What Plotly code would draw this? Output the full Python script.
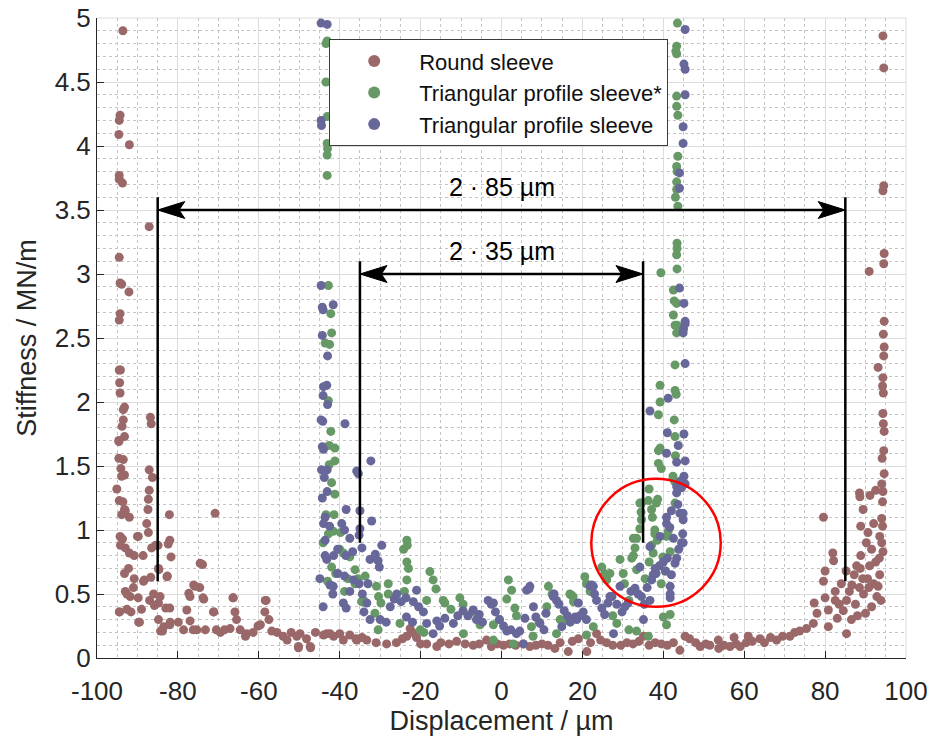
import plotly.graph_objects as go

# ---------------- data ----------------
round_sleeve = [
    (-93.6,4.90),(-94.3,4.24),(-94.5,4.20),(-94.6,4.09),(-92.0,4.01),(-94.5,3.77),(-94.5,3.74),(-93.7,3.71),
    (-87.1,3.37),(-94.5,3.13),(-94.3,2.93),(-93.9,2.92),(-92.1,2.86),(-94.3,2.69),(-94.5,2.64),
    (-94.5,2.25),(-94.2,2.25),(-94.4,2.15),(-94.3,2.07),(-93.5,1.94),(-93.2,1.96),(-93.5,1.86),(-93.8,1.81),
    (-93.2,1.73),(-94.6,1.70),(-94.6,1.69),(-94.6,1.56),(-93.5,1.55),(-94.1,1.48),(-93.2,1.43),(-93.9,1.42),
    (-95.1,1.32),(-94.5,1.23),(-93.6,1.22),(-93.2,1.16),(-93.0,1.15),(-92.0,1.10),(-93.9,1.12),
    (-86.8,1.88),(-86.6,1.83),(-87.1,1.47),(-86.3,1.41),(-87.1,1.31),(-87.3,1.24),(-87.4,1.16),(-82.1,1.12),
    (-70.8,1.13),(-87.7,1.05),(-87.3,0.98),(-90.0,0.95),
    (-94.3,0.95),(-93.7,0.93),(-89.8,0.95),(-82.0,0.92),(-82.4,0.89),(-81.7,0.79),(-94.2,0.88),(-93.0,0.86),
    (-92.0,0.82),(-90.8,0.80),(-88.6,0.80),(-86.5,0.86),(-85.5,0.88),(-84.9,0.88),(-92.2,0.70),(-93.2,0.66),
    (-90.8,0.62),(-88.5,0.60),(-88.3,0.61),(-86.7,0.63),(-84.8,0.70),(-84.7,0.69),(-82.7,0.635),(-82.6,0.64),
    (-93.0,0.52),(-92.6,0.50),(-91.8,0.48),(-91.0,0.55),(-89.8,0.47),(-87.0,0.45),(-86.0,0.50),(-84.8,0.43),
    (-84.4,0.48),(-94.4,0.36),(-94.5,0.36),(-92.6,0.38),(-91.6,0.36),(-89.0,0.38),(-85.8,0.41),(-83.0,0.39),
    (-82.0,0.39),(-89.7,0.28),(-89.5,0.28),(-84.8,0.30),(-83.5,0.245),(-84.3,0.21),(-83.8,0.21),(-81.9,0.28),
    (-82.0,0.26),(-79.9,0.28),(-78.6,0.22),(-77.0,0.29),(-76.2,0.22),(-75.3,0.22),(-77.8,0.375),(-77.3,0.505),
    (-77.0,0.48),(-76.1,0.57),(-75.8,0.56),(-74.6,0.55),(-74.5,0.74),(-73.9,0.73),(-73.8,0.47),(-73.6,0.46),
    (-73.2,0.22),(-71.2,0.36),(-70.5,0.22),(-71.1,0.36),(-69.5,0.20),(-68.5,0.22),(-66.4,0.47),(-66.3,0.47),
    (-65.9,0.36),(-65.5,0.30),(-67.1,0.23),(-64.6,0.22),(-63.3,0.17),(-63.0,0.19),(-61.4,0.20),(-60.2,0.25),
    (-59.6,0.26),(-58.4,0.45),(-58.2,0.45),(-58.5,0.36),(-57.5,0.30),(-56.8,0.21),(-55.5,0.20),(-54.0,0.17),
    (-53.0,0.14),(-52.0,0.20),(-50.6,0.17),(-50.2,0.08),(-50.2,0.09),(-47.2,0.08),(-48.2,0.15),
    (-49.8,0.19),(-47.3,0.09),(-46.0,0.20),(-44.0,0.18),(-43.2,0.19),(-42.4,0.19),(-41.5,0.17),(-40.0,0.19),
    (-39.1,0.14),(-37.5,0.18),(-36.0,0.15),(-35.8,0.14),(-34.5,0.16),(-33.3,0.14),(-31.0,0.12),(-28.4,0.11),
    (-26.0,0.12),(-24.5,0.15),(-23.4,0.17),(-22.6,0.23),(-22.0,0.20),(-21.0,0.16),(-20.0,0.11),(-18.5,0.11),
    (-16.0,0.09),(-15.0,0.12),(-13.0,0.11),(-11.1,0.13),(-9.0,0.11),(-7.0,0.10),(-5.5,0.11),(-3.7,0.14),
    (-2.5,0.09),(-1.0,0.11),(0.5,0.10),(2.0,0.11),(3.5,0.10),(5.4,0.11),(7.0,0.09),(8.5,0.10),(10.0,0.11),
    (11.5,0.10),(13.2,0.075),(14.5,0.12),(16.5,0.05),(17.5,0.13),(19.0,0.15),(21.1,0.05),(22.0,0.12),
    (23.5,0.19),(24.5,0.14),(26.0,0.12),(27.5,0.10),(29.5,0.10),(31.0,0.12),(32.5,0.11),(34.0,0.13),
    (35.1,0.17),(36.5,0.10),(38.0,0.12),(39.5,0.11),(41.0,0.10),(42.5,0.12),(44.1,0.06),(45.4,0.17),
    (46.5,0.15),(48.0,0.12),(49.1,0.09),(50.5,0.11),(51.5,0.10),(53.6,0.14),(53.7,0.075),(55.0,0.10),
    (56.5,0.09),(57.5,0.16),(58.0,0.11),(59.0,0.09),(60.5,0.12),(61.0,0.17),(62.0,0.13),(63.9,0.15),
    (65.0,0.12),(66.5,0.16),(68.0,0.14),(69.5,0.17),(71.3,0.17),(72.5,0.20),(73.7,0.21),(75.4,0.23),
    (77.1,0.27),(78.0,0.35),(77.3,0.43),(80.8,0.245),(80.8,0.375),(79.6,0.60),(80.0,0.68),(80.0,0.47),
    (81.9,0.82),(82.1,0.76),(82.5,0.52),(79.6,1.10),(83.0,0.31),(83.5,0.42),(84.5,0.37),(85.3,0.19),
    (85.3,0.45),(85.2,0.68),(86.5,0.30),(86.6,0.57),(87.2,0.65),(87.5,0.42),(88.5,0.55),(88.7,0.70),
    (88.8,0.80),(88.8,1.03),(88.5,1.29),(88.6,1.26),(89.4,1.16),(89.5,0.50),(90.2,0.90),(90.6,0.98),
    (90.5,0.62),(91.1,1.27),(91.0,0.72),(91.5,0.85),(92.0,0.58),(92.5,1.31),(92.0,1.05),(92.5,0.75),
    (93.1,0.56),(93.5,0.65),(93.8,0.45),(93.5,0.95),(94.0,0.90),(94.0,1.09),(94.2,1.03),(94.3,0.83),
    (94.2,1.22),(94.3,1.30),(94.0,1.36),(94.6,1.44),(94.1,1.56),(94.5,1.62),(94.6,1.77),(94.4,1.83),
    (94.3,1.91),(94.4,2.07),(94.2,2.125),(93.1,2.27),(94.3,2.19),(94.5,2.36),(94.6,2.43),(94.4,2.53),
    (94.6,2.63),(90.9,3.02),(94.5,3.08),(94.6,3.16),(94.3,3.65),(94.5,3.69),(94.5,4.61),(94.3,4.86),
    (91.5,0.40),(90.0,0.35),(88.0,0.33),(86.0,0.52),(84.0,0.58),(82.5,0.45),(92.8,0.48),(90.8,0.55),
    (89.3,0.62),(87.8,0.72),(93.4,0.78),
]

profile_sleeve_star = [
    (-43.4,4.80),(-43.1,4.82),(-43.4,4.50),(-43.1,4.23),(-43.1,4.02),(-43.0,3.98),(-43.1,3.93),(-43.1,3.77),
    (-42.8,2.91),(-42.2,2.69),(-42.0,2.54),(-43.6,2.46),(-42.5,2.45),(-42.8,2.01),(-42.2,1.77),(-42.6,1.66),
    (-41.2,1.64),(-41.2,1.54),(-42.6,1.51),(-42.0,1.37),(-41.2,1.28),(-43.4,1.12),(-41.4,1.12),(-42.8,0.97),
    (-44.1,0.90),(-41.6,0.99),(-39.8,0.98),(-42.0,0.71),(-40.0,0.85),(-39.1,0.82),(-37.5,0.79),(-36.2,0.69),
    (-35.5,0.62),(-33.7,0.64),(-36.2,0.58),(-34.6,0.44),(-34.1,0.45),(-38.0,0.62),(-41.0,0.66),(-43.0,0.60),
    (-38.8,0.52),(-30.9,0.56),(-30.4,0.48),(-29.8,0.43),(-31.3,0.35),(-30.5,0.22),(-28.0,0.58),(-28.0,0.50),
    (-25.1,0.27),(-23.4,0.92),(-23.3,0.88),(-24.2,0.85),(-23.4,0.75),(-23.0,0.70),(-23.4,0.61),(-24.0,0.52),
    (-17.7,0.675),(-16.9,0.61),(-16.2,0.54),(-18.5,0.45),(-14.4,0.45),(-20.1,0.22),(-19.2,0.20),(-14.0,0.43),
    (-12.5,0.38),(-10.3,0.47),(-9.5,0.42),(-9.4,0.19),(-7.2,0.36),(-5.3,0.26),(-2.0,0.26),(-0.5,0.30),
    (-2.0,0.14),(1.7,0.61),(2.5,0.53),(1.3,0.46),(3.3,0.39),(3.7,0.33),(2.9,0.11),(7.4,0.245),(7.8,0.17),
    (9.3,0.28),(11.2,0.40),(11.6,0.56),(12.5,0.50),(13.6,0.19),(14.5,0.30),(15.2,0.28),(16.9,0.50),
    (17.3,0.49),(17.8,0.44),(17.7,0.48),(20.6,0.635),(21.0,0.58),(21.9,0.52),(22.7,0.245),(21.0,0.18),
    (24.8,0.71),(25.5,0.66),(26.0,0.61),(26.8,0.66),(27.5,0.33),(28.5,0.27),(29.3,0.77),(30.1,0.66),
    (30.4,0.58),(31.5,0.45),(32.2,0.78),(32.6,0.80),(32.6,0.935),(33.4,0.935),(33.0,0.86),(34.2,1.01),
    (34.6,1.08),(34.5,1.14),(34.6,1.21),(34.2,1.21),(36.5,1.32),(36.3,1.23),(37.1,1.16),(37.3,1.10),
    (38.3,1.21),(38.6,1.24),(37.9,1.00),(37.9,0.97),(37.1,0.88),(38.5,0.92),(37.5,0.82),(36.5,0.75),
    (33.4,0.69),(35.5,0.62),(39.9,0.79),(41.7,0.83),(40.8,0.95),(41.2,0.99),(42.9,1.21),(40.5,0.68),
    (39.5,0.58),(40.0,0.32),(40.8,0.26),(41.7,0.34),(33.4,0.21),(36.3,0.17),(31.5,0.22),(38.8,1.52),
    (39.5,1.48),(42.4,1.42),(42.8,1.38),(39.2,1.64),(38.8,1.62),(43.0,1.58),(42.9,1.73),(42.7,1.86),
    (38.8,1.90),(39.2,2.00),(39.2,2.13),(42.9,2.09),(43.2,2.06),(42.9,2.29),(42.9,2.60),(43.3,2.54),
    (42.5,2.875),(42.7,2.79),(43.3,2.77),(42.5,2.68),(43.4,2.60),(39.4,3.01),(43.4,3.04),(43.3,3.15),
    (43.4,3.20),(43.4,3.24),(43.6,3.53),(43.0,3.60),(43.3,3.66),(43.3,3.72),(43.4,3.80),(43.3,3.84),
    (43.6,3.92),(43.6,4.24),(43.3,4.31),(43.3,4.39),(43.3,4.72),(43.1,4.74),(43.3,4.78),(43.5,4.96),
]

profile_sleeve = [
    (-44.6,4.96),(-43.1,4.95),(-44.6,4.20),(-44.5,4.16),(-44.6,2.91),(-44.3,2.74),(-41.6,2.76),(-44.1,2.72),
    (-44.3,2.52),(-43.0,2.36),(-43.2,2.13),(-44.0,2.12),(-44.1,2.05),(-43.0,1.98),(-44.6,1.86),(-44.2,1.85),
    (-38.7,1.83),(-44.3,1.65),(-44.0,1.63),(-44.5,1.47),(-43.1,1.47),(-43.8,1.41),(-43.1,1.30),(-44.3,1.25),
    (-35.4,1.44),(-35.8,1.46),(-32.3,1.54),(-38.4,1.16),(-35.0,1.15),(-32.1,1.07),(-43.6,1.10),(-44.0,1.05),
    (-42.5,1.03),(-39.5,1.05),(-38.8,1.00),(-37.5,0.935),(-35.0,1.01),(-35.2,0.96),(-29.6,0.88),(-43.6,0.92),
    (-43.6,0.80),(-43.2,0.77),(-41.5,0.80),(-40.5,0.85),(-38.5,0.80),(-36.8,0.83),(-34.5,0.86),(-32.5,0.77),
    (-31.2,0.81),(-30.5,0.76),(-30.2,0.71),(-44.9,0.62),(-42.4,0.57),(-40.5,0.66),(-38.8,0.64),(-36.6,0.61),
    (-35.2,0.58),(-33.0,0.58),(-41.6,0.56),(-41.7,0.50),(-39.1,0.43),(-44.1,0.40),(-38.4,0.39),(-37.5,0.52),
    (-34.4,0.50),(-33.3,0.43),(-34.0,0.36),(-32.5,0.30),(-30.0,0.30),(-28.5,0.28),(-27.5,0.40),(-26.5,0.46),
    (-25.9,0.50),(-24.8,0.44),(-23.6,0.47),(-21.0,0.53),(-21.8,0.44),(-20.5,0.40),(-23.5,0.32),(-22.0,0.28),
    (-19.3,0.36),(-18.5,0.27),(-16.9,0.19),(-16.0,0.29),(-15.3,0.25),(-14.0,0.31),(-11.9,0.27),(-10.8,0.33),
    (-9.5,0.37),(-8.3,0.33),(-7.0,0.375),(-6.2,0.30),(-5.5,0.34),(-4.7,0.28),(-3.3,0.45),(-2.5,0.42),
    (-1.5,0.36),(-0.5,0.30),(-2.0,0.43),(0.5,0.25),(1.3,0.21),(2.3,0.22),(3.7,0.19),(4.5,0.21),(5.4,0.11),
    (6.2,0.53),(7.0,0.56),(6.8,0.54),(7.9,0.40),(5.8,0.31),(8.5,0.32),(9.5,0.27),(10.5,0.22),(11.0,0.35),
    (12.8,0.48),(13.6,0.45),(13.0,0.50),(14.2,0.42),(14.9,0.245),(15.5,0.37),(16.3,0.33),(17.0,0.28),
    (18.2,0.32),(18.6,0.30),(19.0,0.43),(19.4,0.33),(20.2,0.36),(21.0,0.30),(21.9,0.56),(22.3,0.57),
    (22.7,0.56),(23.0,0.50),(23.5,0.45),(24.8,0.39),(25.5,0.34),(26.3,0.43),(26.8,0.48),(27.3,0.48),
    (27.7,0.19),(28.5,0.42),(29.3,0.56),(29.8,0.36),(30.5,0.40),(31.3,0.43),(32.0,0.52),(33.0,0.545),
    (33.8,0.50),(34.2,0.71),(34.6,0.48),(35.1,0.30),(35.3,0.42),(36.7,0.45),(36.0,0.55),(37.1,0.61),
    (37.5,0.65),(38.2,0.66),(36.7,0.87),(38.0,0.70),(39.0,0.72),(40.0,0.75),(40.5,0.68),(41.0,0.78),
    (41.7,0.56),(41.7,0.47),(41.7,0.50),(42.0,0.65),(42.9,0.74),(43.3,0.78),(43.8,0.85),(39.2,0.95),
    (40.8,1.05),(41.6,1.02),(42.5,0.935),(44.5,0.90),(44.9,0.90),(44.8,0.97),(44.9,1.08),(44.1,1.13),
    (44.9,1.13),(40.8,1.10),(42.0,1.15),(43.6,1.20),(43.3,1.29),(44.5,1.33),(45.4,1.36),(43.3,1.34),
    (44.2,1.38),(45.1,1.42),(43.3,1.53),(45.4,1.54),(40.8,1.60),(43.7,1.66),(41.0,1.76),(45.1,1.75),
    (36.7,1.93),(41.2,2.03),(45.4,2.30),(44.9,2.54),(45.0,2.57),(45.4,2.61),(45.4,2.63),(45.1,2.77),
    (44.0,2.89),(44.0,3.67),(44.0,3.79),(44.9,4.02),(44.9,4.15),(45.4,4.40),(45.4,4.60),(45.1,4.64),
    (45.4,4.91),
]

series_names = ["Round sleeve", "Triangular profile sleeve*", "Triangular profile sleeve"]
series_colors = ["#9a6868", "#669966", "#67679a"]

x_ticks = [-100, -80, -60, -40, -20, 0, 20, 40, 60, 80, 100]
y_ticks = [0, 0.5, 1, 1.5, 2, 2.5, 3, 3.5, 4, 4.5, 5]

# dimension markers: half-width, arrow height, vertical line span, label
dims = [
    dict(half=85, y=3.5, y0=0.6, y1=3.6, label="2 · 85 µm", label_y=3.68),
    dict(half=35, y=3.0, y0=0.9, y1=3.1, label="2 · 35 µm", label_y=3.18),
]
highlight = dict(x0=22.2, x1=54.2, y0=0.40, y1=1.40)

FONT = "Liberation Sans, Arial, Helvetica, sans-serif"
TXT = "#262626"

fig = go.Figure()
for pts, name, col in zip([round_sleeve, profile_sleeve_star, profile_sleeve], series_names, series_colors):
    fig.add_trace(go.Scatter(
        x=[p[0] for p in pts], y=[p[1] for p in pts], mode="markers", name=name,
        marker=dict(size=9, color=col, line=dict(width=0)),
    ))

shapes = []
annotations = []
# arrowhead size in axis units (approx 27 px long, 8 px half-height)
AL, AH, AN = 6.7, 0.066, 1.4
for d in dims:
    h = d["half"]
    for sx in (-1, 1):
        shapes.append(dict(type="line", xref="x", yref="y", x0=sx*h, x1=sx*h, y0=d["y0"], y1=d["y1"],
                           line=dict(color="black", width=2.5)))
    shapes.append(dict(type="line", xref="x", yref="y", x0=-h+2, x1=h-2, y0=d["y"], y1=d["y"],
                       line=dict(color="black", width=2.5)))
    for sx in (-1, 1):
        tip = sx*h
        back = tip - sx*AL
        notch = tip - sx*(AL - AN)
        y = d["y"]
        path = f"M {tip},{y} L {back},{y+AH} L {notch},{y} L {back},{y-AH} Z"
        shapes.append(dict(type="path", xref="x", yref="y", path=path,
                           fillcolor="black", line=dict(color="black", width=1)))
    annotations.append(dict(x=0, y=d["label_y"], xref="x", yref="y", text=d["label"], showarrow=False,
                            font=dict(size=25, color="black", family=FONT), yanchor="middle"))

shapes.append(dict(type="circle", xref="x", yref="y", **highlight,
                   line=dict(color="#ff0000", width=2.5)))
# light frame on top / right
shapes.append(dict(type="line", xref="paper", yref="paper", x0=0, x1=1, y0=1, y1=1,
                   line=dict(color="#dcdcdc", width=1), layer="below"))
shapes.append(dict(type="line", xref="paper", yref="paper", x0=1, x1=1, y0=0, y1=1,
                   line=dict(color="#dcdcdc", width=1), layer="below"))

# the page body adds an 8 px offset, so the figure is drawn 8 px smaller / shifted
fig.update_layout(
    width=929, height=729,
    margin=dict(l=89, r=31, t=10, b=79, autoexpand=False),
    paper_bgcolor="white", plot_bgcolor="white",
    font=dict(family=FONT, color=TXT, size=26),
    shapes=shapes, annotations=annotations,
    showlegend=True,
    legend=dict(x=0.287, y=0.967, xanchor="left", yanchor="top",
                bgcolor="white", bordercolor="#3c3c3c", borderwidth=1,
                font=dict(size=22, color="#111111", family=FONT),
                itemsizing="constant", itemwidth=80, tracegroupgap=0, indentation=-1),
)
fig.update_xaxes(
    range=[-100, 100], tickvals=x_ticks, ticktext=[str(v) for v in x_ticks], automargin=False,
    ticklabeloverflow="allow",
    showline=True, linecolor=TXT, linewidth=1, mirror=False,
    ticks="inside", ticklen=7, tickcolor=TXT, tickfont=dict(size=26, color=TXT), ticklabelstandoff=10,
    showgrid=True, gridcolor="#dcdcdc", gridwidth=1, zeroline=False,
    minor=dict(dtick=5, showgrid=True, gridcolor="#c4c4c4", griddash="dot", gridwidth=1),
    title=dict(text="Displacement / µm", font=dict(size=27, color=TXT), standoff=4),
)
fig.update_yaxes(
    range=[0, 5], tickvals=y_ticks, ticktext=[f"{v:g}" for v in y_ticks], automargin=False,
    ticklabeloverflow="allow",
    showline=True, linecolor=TXT, linewidth=1, mirror=False,
    ticks="inside", ticklen=7, tickcolor=TXT, tickfont=dict(size=26, color=TXT),
    showgrid=True, gridcolor="#dcdcdc", gridwidth=1, zeroline=False,
    minor=dict(dtick=0.1, showgrid=True, gridcolor="#c4c4c4", griddash="dot", gridwidth=1),
    title=dict(text="Stiffness / MN/m", font=dict(size=27, color=TXT), standoff=10),
)

fig.write_html("out.html")
